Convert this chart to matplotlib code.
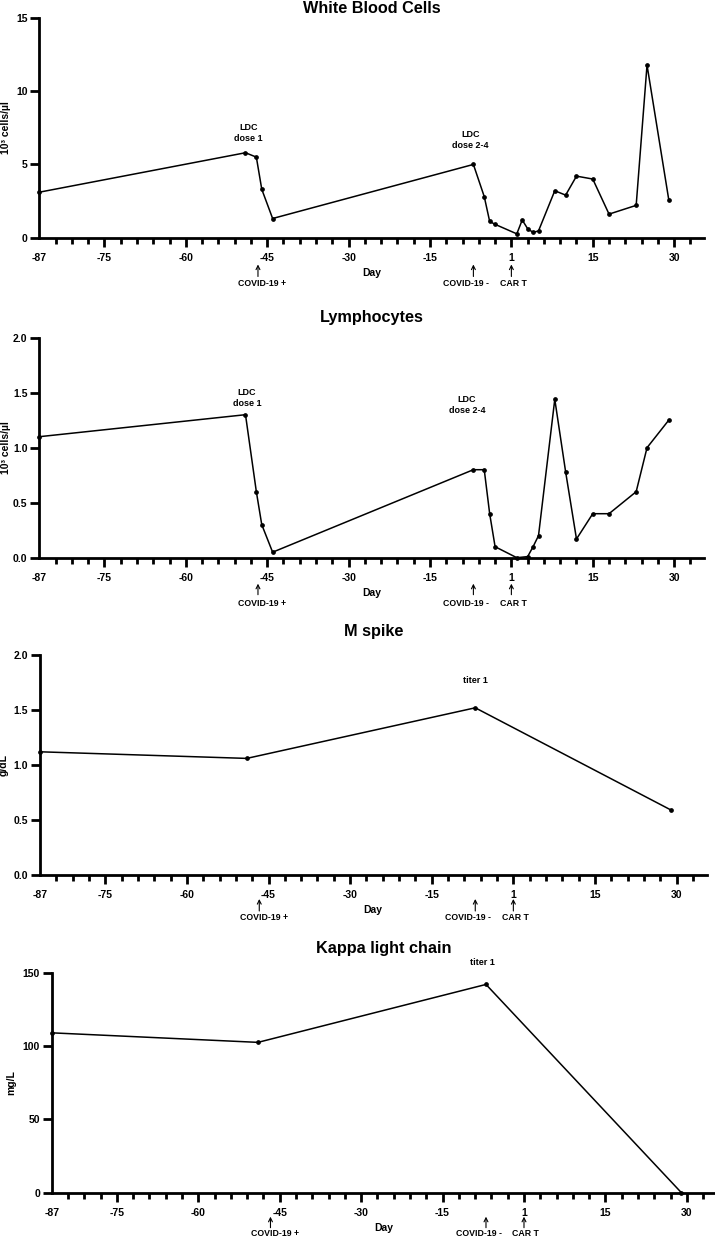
import matplotlib
matplotlib.use("Agg")
import matplotlib.pyplot as plt
from matplotlib.transforms import blended_transform_factory, offset_copy

plt.rcParams['font.family'] = ['Liberation Sans', 'DejaVu Sans']
plt.rcParams['font.weight'] = 'bold'

# --- data (day relative to CAR T infusion) ---
wbc_days = [-87, -49, -47, -46, -44, -7, -5, -4, -3, 1, 2, 3, 4, 5, 8, 10, 12, 15, 18, 23, 25, 29]
wbc_vals = [3.1, 5.8, 5.5, 3.3, 1.3, 5.0, 2.8, 1.1, 0.9, 0.25, 1.2, 0.6, 0.35, 0.45, 3.2, 2.9, 4.2, 4.0, 1.6, 2.2, 11.8, 2.6]

lymph_days = [-87, -49, -47, -46, -44, -7, -5, -4, -3, 1, 3, 4, 5, 8, 10, 12, 15, 18, 23, 25, 29]
lymph_vals = [1.1, 1.3, 0.6, 0.3, 0.05, 0.8, 0.8, 0.4, 0.1, 0.0, 0.01, 0.1, 0.2, 1.44, 0.78, 0.17, 0.4, 0.4, 0.6, 1.0, 1.25]

mspike_days = [-87, -49, -7, 29]
mspike_vals = [1.12, 1.06, 1.52, 0.59]

kappa_days = [-87, -49, -7, 29]
kappa_vals = [109, 102.5, 142, 0]

xticks = [-87, -75, -60, -45, -30, -15, 0, 15, 30]
xtick_labels = ['-87', '-75', '-60', '-45', '-30', '-15', '1', '15', '30']
minor_ticks = [d for d in range(-84, 35, 3) if d not in xticks]

events = [(-46.7, 0.8, 'COVID-19 +'), (-7, -1.3, 'COVID-19 -'), (0, 0.3, 'CAR T')]

W, H = 715, 1240
fig = plt.figure(figsize=(W / 100, H / 100), dpi=100)


def make_axes(left, right, top, bottom):
    return fig.add_axes([left / W, 1 - bottom / H, (right - left) / W, (bottom - top) / H])


def style(ax, title, title_off, ylabel, ylabel_px, yticks, ylim, yfmt, ev_off=46, arrow=(27, 39)):
    ax.set_xlim(-87, 35.5)
    ax.set_ylim(*ylim)
    for s in ['top', 'right']:
        ax.spines[s].set_visible(False)
    for s in ['left', 'bottom']:
        ax.spines[s].set_linewidth(2.0)
    ax.set_xticks(xticks)
    ax.set_xticklabels(xtick_labels)
    ax.set_xticks(minor_ticks, minor=True)
    ax.set_yticks(yticks)
    ax.set_yticklabels([yfmt.format(v) for v in yticks])
    ax.tick_params(axis='both', which='major', length=6.5, width=2.0, labelsize=7.5, pad=2)
    ax.tick_params(axis='x', which='major', pad=4.5)
    ax.tick_params(axis='x', which='minor', length=4, width=2.0)
    ax.xaxis.get_major_ticks()[0].tick1line.set_visible(False)
    for lab in ax.get_xticklabels() + ax.get_yticklabels():
        lab.set_fontweight('bold')
    # title placed by its baseline
    ax.annotate(title, xy=(0.5, 1), xycoords='axes fraction', xytext=(0, title_off),
                textcoords='offset pixels', ha='center', va='baseline',
                fontsize=11.7, fontweight='bold')
    ax.set_ylabel(ylabel, fontsize=7.5, fontweight='bold')
    width_px = ax.get_position().width * W
    ax.yaxis.set_label_coords(-ylabel_px / width_px, 0.5)
    ax.annotate('Day', xy=(0.5, 0), xycoords='axes fraction', xytext=(0, -35),
                textcoords='offset pixels', ha='center', va='center',
                fontsize=7.5, fontweight='bold')
    blend = blended_transform_factory(ax.transData, ax.transAxes)
    tip = offset_copy(blend, fig=fig, y=-arrow[0], units='dots')
    tail = offset_copy(blend, fig=fig, y=-arrow[1], units='dots')
    for day, shift, label in events:
        ax.annotate('', xy=(day, 0), xycoords=tip, xytext=(day, 0), textcoords=tail,
                    arrowprops=dict(arrowstyle='->', lw=0.8, color='black',
                                    mutation_scale=7, shrinkA=0, shrinkB=0))
        ax.annotate(label, xy=(day + shift, 0), xycoords=('data', 'axes fraction'), xytext=(0, -ev_off),
                    textcoords='offset pixels', ha='center', va='center',
                    fontsize=6.3, fontweight='bold')


def series(ax, days, vals):
    ax.plot(days, vals, color='black', lw=1.1, marker='o', markersize=2.4, clip_on=False, zorder=3)


# White blood cells
ax1 = make_axes(39.3, 704, 18.3, 237.5)
series(ax1, wbc_days, wbc_vals)
style(ax1, 'White Blood Cells', 5.5, '10\u00b3 cells/\u00b5l', 28, [0, 5, 10, 15], (0, 15), '{:g}')
ax1.text(-48.4, 7.15, 'LDC\ndose 1', ha='center', va='center', fontsize=6.5, fontweight='bold', linespacing=1.3)
ax1.text(-7.6, 6.7, 'LDC\ndose 2-4', ha='center', va='center', fontsize=6.5, fontweight='bold', linespacing=1.3)

# Lymphocytes
ax2 = make_axes(39.3, 704, 337.7, 557.7)
series(ax2, lymph_days, lymph_vals)
style(ax2, 'Lymphocytes', 16, '10\u00b3 cells/\u00b5l', 28, [0, 0.5, 1.0, 1.5, 2.0], (0, 2), '{:.1f}',
      arrow=(26, 37))
ax2.text(-48.7, 1.45, 'LDC\ndose 1', ha='center', va='center', fontsize=6.5, fontweight='bold', linespacing=1.3)
ax2.text(-8.2, 1.39, 'LDC\ndose 2-4', ha='center', va='center', fontsize=6.5, fontweight='bold', linespacing=1.3)

# M spike
ax3 = make_axes(40, 706.5, 655, 875)
series(ax3, mspike_days, mspike_vals)
style(ax3, 'M spike', 19, 'g/dL', 31, [0, 0.5, 1.0, 1.5, 2.0], (0, 2), '{:.1f}', ev_off=43, arrow=(24, 36))
ax3.text(-7, 1.77, 'titer 1', ha='center', va='center', fontsize=6.5, fontweight='bold')

# Kappa light chain
ax4 = make_axes(51.7, 716.7, 972.7, 1192.7)
series(ax4, kappa_days, kappa_vals)
style(ax4, 'Kappa light chain', 20, 'mg/L', 35, [0, 50, 100, 150], (0, 150), '{:g}', ev_off=41, arrow=(24, 35))
ax4.text(-7.7, 157, 'titer 1', ha='center', va='center', fontsize=6.5, fontweight='bold', clip_on=False)

fig.savefig('out.png', dpi=100)
